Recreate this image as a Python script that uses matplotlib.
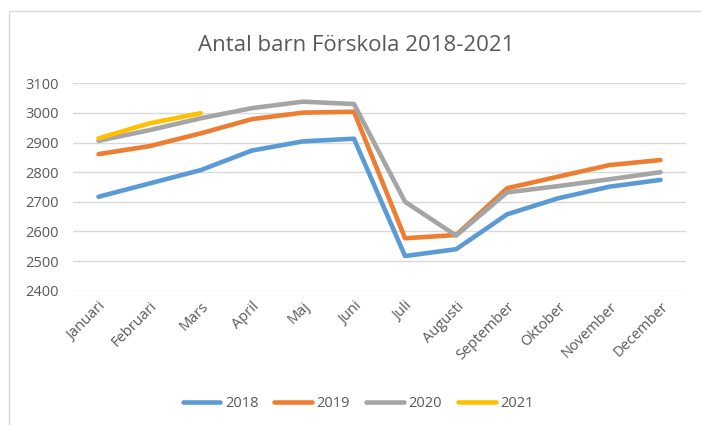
import matplotlib.pyplot as plt
from matplotlib.patches import Rectangle

months = ['Januari', 'Februari', 'Mars', 'April', 'Maj', 'Juni', 'Juli',
          'Augusti', 'September', 'Oktober', 'November', 'December']

v2018 = [2717, 2762, 2807, 2873, 2904, 2913, 2517, 2540, 2658, 2712, 2751, 2774]
v2019 = [2861, 2888, 2931, 2979, 3001, 3004, 2577, 2588, 2746, 2785, 2824, 2841]
v2020 = [2906, 2942, 2982, 3016, 3038, 3030, 2700, 2586, 2732, 2753, 2776, 2800]
v2021 = [2914, 2965, 2999]

series = [('2018', v2018, '#5B9BD5'), ('2019', v2019, '#ED7D31'),
          ('2020', v2020, '#A5A5A5'), ('2021', v2021, '#FFC000')]

plt.rcParams['font.family'] = ['Open Sans', 'DejaVu Sans']
text_col = '#595959'

fig = plt.figure(figsize=(7.01, 4.25), dpi=100)
fig.patches.append(Rectangle((9 / 701, -0.1), 1.1, 1 - 11 / 425 + 0.1,
                             transform=fig.transFigure, fill=False,
                             edgecolor='#D9D9D9', linewidth=1))

ax = fig.add_axes([73 / 701, (425 - 290.7) / 425, 613 / 701, 207.4 / 425])
for name, vals, col in series:
    ax.plot(range(len(vals)), vals, color=col, linewidth=3.3, label=name,
            solid_capstyle='round', zorder=3)

ax.set_xlim(-0.5, 11.5)
ax.set_ylim(2400, 3100)
ax.set_yticks(range(2400, 3101, 100))
ax.set_xticks(range(12))
ax.set_xticklabels(months, rotation=45, ha='right', rotation_mode='anchor')
ax.grid(axis='y', color='#D9D9D9', linewidth=1)
ax.set_axisbelow(True)
for s in ax.spines.values():
    s.set_visible(False)
ax.tick_params(length=0, colors=text_col, labelsize=10.5)
ax.tick_params(axis='y', pad=10)
ax.tick_params(axis='x', pad=6)

fig.text(0.508, 0.893, 'Antal barn Förskola 2018-2021', ha='center',
         va='center', fontsize=16, color=text_col)

fig.legend(loc='center', bbox_to_anchor=(0.511, 0.05), ncol=4, frameon=False,
           fontsize=10.5, labelcolor=text_col, handlelength=2.6,
           handletextpad=0.3, columnspacing=1.1)

fig.savefig('out.png', dpi=100)
